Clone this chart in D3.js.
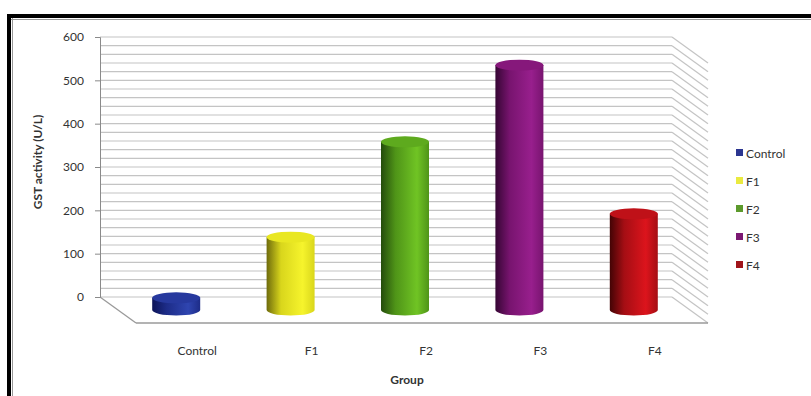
<!DOCTYPE html>
<html>
<head>
<meta charset="utf-8">
<script src="https://cdn.jsdelivr.net/npm/d3@7"></script>
<style>
  html, body { margin: 0; padding: 0; background: #fff; }
  svg { display: block; }
  text { font-family: Lato, "Open Sans", "Liberation Sans", sans-serif; fill: #333; }
</style>
</head>
<body>
<svg id="chart" width="811" height="396"></svg>
<script>
// Groups and measured GST activity (U/L)
const groups = ["Control", "F1", "F2", "F3", "F4"];
const gstValues = [28, 168, 388, 565, 222];
const yTickValues = [0, 100, 200, 300, 400, 500, 600];

// Cylinder shading per group: [dark edge, body, highlight, top face]
const dark = ["#0c1458", "#6e6b0c", "#244c0c", "#360634", "#430405"];
const body = ["#1d2c88", "#d9d61c", "#4f9418", "#78146f", "#a50e14"];
const light = ["#2f45b0", "#f6f42c", "#70c424", "#981f8d", "#dc141c"];
const topFace = ["#27399e", "#e9e722", "#5eaa1e", "#86187b", "#bf1118"];
const legendColors = ["#2b3590", "#eaea40", "#5c9a2c", "#7b1872", "#a0141a"];

const svg = d3.select("#chart");

// Plot geometry: back wall plus a floor receding toward the viewer
const wall = { left: 100, right: 672, top: 37, bottom: 297 };
const depth = { dx: 36, dy: 26 };

const x = d3.scaleBand().domain(groups).range([wall.left, wall.right]);
const y = d3.scaleLinear().domain([0, 600]).range([wall.bottom, wall.top]);

// Frame
svg.append("rect").attr("x", 0).attr("y", 0).attr("width", 811).attr("height", 396).attr("fill", "#fff");
svg.append("rect").attr("x", 7).attr("y", 14).attr("width", 811).attr("height", 4).attr("fill", "#000");
svg.append("rect").attr("x", 7).attr("y", 14).attr("width", 4).attr("height", 396).attr("fill", "#000");
svg.append("line").attr("x1", 12.5).attr("x2", 12.5).attr("y1", 18).attr("y2", 396)
  .attr("stroke", "#999").attr("stroke-width", 1);
svg.append("line").attr("x1", 11).attr("x2", 811).attr("y1", 19.5).attr("y2", 19.5)
  .attr("stroke", "#999").attr("stroke-width", 1);

// Minor gridlines on the back wall and the right side wall
const gridVals = y.ticks(30);
const grid = svg.append("g").attr("stroke", "#c4c4c4").attr("stroke-width", 1.2).attr("fill", "none");
gridVals.forEach(v => {
  const yy = y(v);
  grid.append("line").attr("x1", wall.left).attr("x2", wall.right).attr("y1", yy).attr("y2", yy);
  grid.append("line").attr("x1", wall.right).attr("x2", wall.right + depth.dx)
    .attr("y1", yy).attr("y2", yy + depth.dy);
});

// Floor outline
const floor = svg.append("g").attr("stroke", "#9a9a9a").attr("stroke-width", 1.3).attr("fill", "none");
floor.append("line").attr("x1", wall.left).attr("y1", y(0))
  .attr("x2", wall.left + depth.dx).attr("y2", y(0) + depth.dy);
floor.append("line").attr("x1", wall.left + depth.dx).attr("y1", y(0) + depth.dy)
  .attr("x2", wall.right + depth.dx).attr("y2", y(0) + depth.dy);

// Value axis
const yAxis = d3.axisLeft(y).tickValues(yTickValues).tickSize(5).tickPadding(11);
const ag = svg.append("g").attr("transform", `translate(${wall.left},0)`).call(yAxis);
ag.selectAll("path, line").attr("stroke", "#8a8a8a");
ag.selectAll("text").style("font-size", "12px").attr("fill", "#444")
  .style("font-family", "Lato, 'Open Sans', sans-serif");

// Gradients for cylinder bodies
const defs = svg.append("defs");
groups.forEach((g, i) => {
  const grad = defs.append("linearGradient").attr("id", "cyl" + i)
    .attr("x1", "0%").attr("x2", "100%").attr("y1", "0%").attr("y2", "0%");
  grad.append("stop").attr("offset", "0%").attr("stop-color", dark[i]);
  grad.append("stop").attr("offset", "30%").attr("stop-color", body[i]);
  grad.append("stop").attr("offset", "75%").attr("stop-color", light[i]);
  grad.append("stop").attr("offset", "100%").attr("stop-color", body[i]);
});

// Cylinders sit at mid-depth on the floor
const rx = 24, ry = 5.5;
const bars = svg.append("g");
groups.forEach((g, i) => {
  const cx = x(g) + x.bandwidth() / 2 + depth.dx / 2 + 1;
  const yb = y(0) + depth.dy / 2;
  const yt = y(gstValues[i]) + depth.dy / 2;
  bars.append("path")
    .attr("d", `M${cx - rx},${yt} L${cx - rx},${yb} A${rx},${ry} 0 0 0 ${cx + rx},${yb} L${cx + rx},${yt} Z`)
    .attr("fill", `url(#cyl${i})`);
  bars.append("ellipse")
    .attr("cx", cx).attr("cy", yt).attr("rx", rx).attr("ry", ry)
    .attr("fill", topFace[i]);
});

// Category labels along the front edge of the floor
svg.append("g").selectAll("text").data(groups).join("text")
  .attr("x", d => x(d) + x.bandwidth() / 2 + depth.dx + 4)
  .attr("y", 355)
  .attr("text-anchor", "middle")
  .style("font-size", "12px")
  .text(d => d);

// Axis titles
svg.append("text")
  .attr("x", (wall.left + wall.right + depth.dx) / 2 + 3)
  .attr("y", 384)
  .attr("text-anchor", "middle")
  .style("font-size", "12px").style("font-weight", "bold")
  .text("Group");

svg.append("text")
  .attr("transform", "translate(42,162) rotate(-90)")
  .attr("text-anchor", "middle")
  .style("font-size", "12px").style("font-weight", "bold")
  .text("GST activity (U/L)");

// Legend
const legend = svg.append("g").attr("transform", "translate(736,153)");
groups.forEach((g, i) => {
  const row = legend.append("g").attr("transform", `translate(0,${i * 28})`);
  row.append("rect").attr("x", 0).attr("y", -4).attr("width", 7).attr("height", 7)
    .attr("fill", legendColors[i]);
  row.append("text").attr("x", 10).attr("y", 4.5)
    .style("font-size", "12px").text(g);
});
</script>
</body>
</html>
